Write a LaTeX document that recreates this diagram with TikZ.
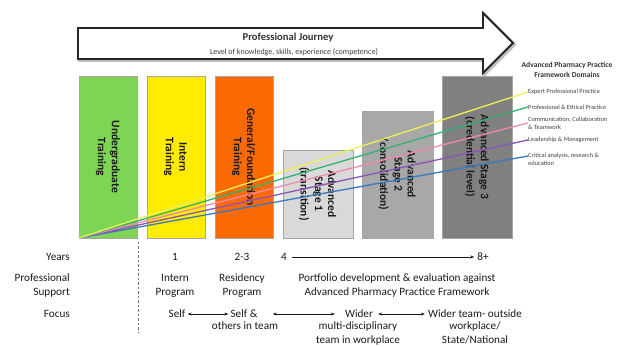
\documentclass[tikz,border=0pt]{standalone}
\usepackage{fontspec}
\setmainfont{Carlito}
\usetikzlibrary{arrows.meta}
\definecolor{ugreen}{HTML}{7ED553}
\definecolor{iyellow}{HTML}{FFEC00}
\definecolor{gorange}{HTML}{FC6A05}
\definecolor{sone}{HTML}{D9D9D9}
\definecolor{stwo}{HTML}{A8A8A8}
\definecolor{sthree}{HTML}{808080}
\definecolor{lyellow}{HTML}{EEF055}
\definecolor{lgreen}{HTML}{33B172}
\definecolor{lpink}{HTML}{F08AA8}
\definecolor{lpurple}{HTML}{8A55B5}
\definecolor{lblue}{HTML}{3A78C0}
\definecolor{txt}{HTML}{1A1A1A}
\tikzset{
  stagebox/.style={draw=black!35, line width=0.6pt, inner sep=0pt},
  stagetxt/.style={rotate=-90, text=txt, inner sep=0pt,
    font=\fontsize{11.5}{14}\selectfont\bfseries},
  domline/.style={line width=1.3pt},
  legtxt/.style={anchor=west, align=left, inner sep=0pt, text=black!75,
    font=\fontsize{6.4}{8}\selectfont},
  lowtxt/.style={align=center, inner sep=0pt, text=txt, font=\fontsize{11.2}{14}\selectfont},
  rowlab/.style={align=right, anchor=east, inner sep=0pt, text=txt, font=\fontsize{11.2}{14}\selectfont},
  focarrow/.style={line width=0.6pt, draw=txt, {Stealth[length=4pt,width=3pt]}-{Stealth[length=4pt,width=3pt]}},
}
\begin{document}
\begin{tikzpicture}[x=1pt,y=-1pt]
\useasboundingbox (0,0) rectangle (619,347);
% big arrow
\draw[line width=3pt, draw=black!25, line join=miter]
  (79.5,29.5) -- (484.5,29.5) -- (484.5,14.5) -- (514.5,44.5) -- (484.5,74.5) -- (484.5,60.5) -- (79.5,60.5) -- cycle;
\draw[line width=1.8pt, draw=black!85, fill=white, line join=miter]
  (78,28) -- (483,28) -- (483,13) -- (513,43) -- (483,73) -- (483,59) -- (78,59) -- cycle;
\node[font=\fontsize{10.6}{12}\selectfont\bfseries, text=black!80] (pj) at (288,38) {Professional Journey};
\node[font=\fontsize{8}{9}\selectfont, text=black!75] (pjs) at (294,52) {Level of knowledge, skills, experience (competence)};
% boxes
\node[stagebox, fill=ugreen, minimum width=58pt, minimum height=162pt] (ug) at (108,157) {};
\node[stagebox, fill=iyellow, minimum width=58pt, minimum height=162pt] (it) at (176,157) {};
\node[stagebox, fill=gorange, minimum width=58pt, minimum height=162pt] (gf) at (244,157) {};
\node[stagebox, fill=sone, minimum width=70pt, minimum height=88pt] (s1) at (318,194) {};
\node[stagebox, fill=stwo, minimum width=71pt, minimum height=127pt] (s2) at (397.5,174.5) {};
\node[stagebox, fill=sthree, minimum width=70pt, minimum height=162pt] (s3) at (477,157) {};
\node[stagetxt] (ug1) at ([xshift=7pt]ug.center) {Undergraduate};
\node[stagetxt] (ug2) at ([xshift=-7pt]ug.center) {Training};
\node[stagetxt] (it1) at ([xshift=7pt]it.center) {Intern};
\node[stagetxt] (it2) at ([xshift=-7pt]it.center) {Training};
\node[stagetxt] (gf1) at ([xshift=7pt]gf.center) {General/Foundation};
\node[stagetxt] (gf2) at ([xshift=-7pt]gf.center) {Training};
\node[stagetxt] (s11) at ([xshift=14pt]s1.center) {Advanced};
\node[stagetxt] (s12) at (s1.center) {Stage 1};
\node[stagetxt] (s13) at ([xshift=-14pt]s1.center) {(transition)};
\node[stagetxt] (s21) at ([xshift=14pt]s2.center) {Advanced};
\node[stagetxt] (s22) at (s2.center) {Stage 2};
\node[stagetxt] (s23) at ([xshift=-14pt]s2.center) {(consolidation)};
\node[stagetxt] (s31) at ([xshift=7pt]s3.center) {Advanced Stage 3};
\node[stagetxt] (s32) at ([xshift=-7pt]s3.center) {(credential level)};
% legend
\node[font=\fontsize{7.6}{10}\selectfont\bfseries, align=center, text=black!80] (hd) at (567,70) {Advanced Pharmacy Practice\\Framework Domains};
\node[legtxt] (l1) at (528,92) {Expert Professional Practice};
\node[legtxt] (l2) at (528,107) {Professional \& Ethical Practice};
\node[legtxt] (l3) at (528,123) {Communication, Collaboration\\\& Teamwork};
\node[legtxt] (l4) at (528,140) {Leadership \& Management};
\node[legtxt] (l5) at (528,159) {Critical analysis, research \&\\education};
\coordinate (o) at (79,238);
\draw[domline, lblue] (o) -- ([yshift=3pt]l5.west);
\draw[domline, lpurple] (o) -- (l4.west);
\draw[domline, lpink] (o) -- (l3.west);
\draw[domline, lgreen] (o) -- (l2.west);
\draw[domline, lyellow] (o) -- (l1.west);
% dashed separator
\coordinate (dtop) at (138,242);
\coordinate (dbot) at (138,333);
\draw[draw=black!55, line width=0.7pt, dash pattern=on 2.5pt off 2pt] (dtop) -- (dbot);
% rows
\node[rowlab] (yrs) at (70,257) {Years};
\node[rowlab] (ps) at (70,286) {Professional\\Support};
\node[rowlab] (fc) at (70,314) {Focus};
\node[lowtxt] (y1) at (175,257) {1};
\node[lowtxt] (y23) at (242,257) {2-3};
\node[lowtxt] (y4) at (284,257) {4};
\node[lowtxt] (y8) at (483,257) {8+};
\draw[line width=0.6pt, draw=txt, -{Stealth[length=4pt,width=3pt]}, shorten <=5pt, shorten >=3pt] (y4.east) -- (y8.west);
\node[lowtxt] (ip) at (175,286) {Intern\\Program};
\node[lowtxt] (rp) at (242,286) {Residency\\Program};
\node[lowtxt] (pf) at (397,286) {Portfolio development \& evaluation against\\Advanced Pharmacy Practice Framework};
\node[lowtxt] (f1) at (177,314) {Self};
\node[lowtxt] (f2) at (244,314) {Self \&};
\node[lowtxt, anchor=north] (f2b) at (245,322) {others in team};
\node[lowtxt] (f3) at (359,314) {Wider};
\node[lowtxt, anchor=north] (f3b) at (358,322) {multi-disciplinary\\team in workplace};
\node[lowtxt] (f4) at (475,314) {Wider team- outside};
\node[lowtxt, anchor=north] (f4b) at (475,322) {workplace/\\State/National};
\draw[focarrow, shorten <=2pt, shorten >=2pt] (f1.east) -- (f2.west);
\draw[focarrow, shorten <=15pt, shorten >=10pt] (f2.east) -- (f3.west);
\draw[focarrow, shorten <=5pt, shorten >=3pt] (f3.east) -- (f4.west);
\end{tikzpicture}
\end{document}
